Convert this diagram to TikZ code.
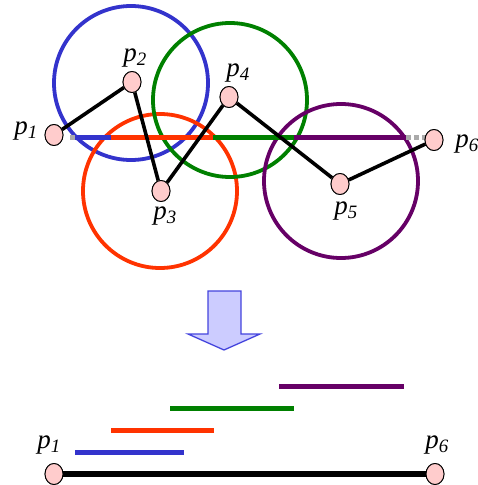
\documentclass[tikz,border=0pt]{standalone}
\usepackage{fontspec}
\setmainfont{Liberation Serif}
\usetikzlibrary{shapes.geometric}
\definecolor{cblue}{RGB}{51,51,204}
\definecolor{cred}{RGB}{255,51,0}
\definecolor{cgreen}{RGB}{0,128,0}
\definecolor{cpurple}{RGB}{102,0,102}
\definecolor{cgray}{RGB}{170,170,170}
\definecolor{ptpink}{RGB}{255,204,204}
\definecolor{arrfill}{RGB}{204,204,255}
\definecolor{arrdraw}{RGB}{68,68,221}
\tikzset{
  pt/.style={ellipse,draw=black,line width=0.9pt,fill=ptpink,minimum width=18pt,minimum height=21pt,inner sep=0pt},
  lbl/.style={font=\fontsize{27}{30}\selectfont\itshape,inner sep=0pt},
  ring/.style={line width=3.8pt},
  seg/.style={line width=5pt},
  link/.style={line width=3.6pt,black},
}
\newcommand{\plab}[1]{p\textsubscript{#1}}
\begin{document}
\begin{tikzpicture}[x=1pt,y=-1pt]
\useasboundingbox (0,0) rectangle (478,485);
% point positions
\coordinate (c1) at (54,135);
\coordinate (c2) at (132,82);
\coordinate (c3) at (161,191);
\coordinate (c4) at (229,97);
\coordinate (c5) at (340,184);
\coordinate (c6) at (434,140);
% circles
\draw[ring,cblue] (131,83) circle (77pt);
\draw[ring,cred] (160,191) circle (77pt);
\draw[ring,cgreen] (230,100) circle (77pt);
\draw[ring,cpurple] (341,181) circle (77pt);
% horizontal line pieces
\coordinate (h0) at (70,137);
\coordinate (h1) at (75,137);
\coordinate (h2) at (111,137);
\coordinate (h3) at (213,137);
\coordinate (h4) at (294,137);
\coordinate (h5) at (406,137);
\coordinate (h6) at (426,137);
\draw[seg,cgray] (h0) -- (h1);
\draw[seg,cgray,dash pattern=on 5pt off 3pt] (h5) -- (h6);
\draw[seg,cblue] (h1) -- (h2);
\draw[seg,cred] (h2) -- (h3);
\draw[seg,cgreen] (h3) -- (h4);
\draw[seg,cpurple] (h4) -- (h5);
% points
\node[pt] (p1) at (c1) {};
\node[pt] (p2) at (c2) {};
\node[pt] (p3) at (c3) {};
\node[pt] (p4) at (c4) {};
\node[pt] (p5) at (c5) {};
\node[pt] (p6) at (c6) {};
\draw[link] (p1) -- (p2) -- (p3) -- (p4) -- (p5) -- (p6);
\node[pt] at (c1) {};
\node[pt] at (c2) {};
\node[pt] at (c3) {};
\node[pt] at (c4) {};
\node[pt] at (c5) {};
\node[pt] at (c6) {};
% labels
\node[lbl] (l1) at (26,131) {\plab{1}};
\node[lbl] (l2) at (135,58) {\plab{2}};
\node[lbl] (l3) at (165,216) {\plab{3}};
\node[lbl] (l4) at (238,73) {\plab{4}};
\node[lbl] (l5) at (346,211) {\plab{5}};
\node[lbl] (l6) at (467,144) {\plab{6}};
% block arrow
\draw[arrdraw,fill=arrfill,line width=1.3pt,line join=miter]
  (208,291) -- (241,291) -- (241,334) -- (260,334) -- (224,350) -- (188,334) -- (208,334) -- cycle;
% bottom
\coordinate (b1a) at (75,452); \coordinate (b1b) at (184,452);
\coordinate (b2a) at (111,430); \coordinate (b2b) at (214,430);
\coordinate (b3a) at (170,408); \coordinate (b3b) at (294,408);
\coordinate (b4a) at (279,386); \coordinate (b4b) at (404,386);
\draw[seg,cblue] (b1a) -- (b1b);
\draw[seg,cred] (b2a) -- (b2b);
\draw[seg,cgreen] (b3a) -- (b3b);
\draw[seg,cpurple] (b4a) -- (b4b);
\node[pt] (q1) at (54,474) {};
\node[pt] (q6) at (435,474) {};
\draw[line width=5.5pt,black] (q1) -- (q6);
\node[pt] at (54,474) {};
\node[pt] at (435,474) {};
\node[lbl] (m1) at (49,445) {\plab{1}};
\node[lbl] (m6) at (437,445) {\plab{6}};
\end{tikzpicture}
\end{document}
